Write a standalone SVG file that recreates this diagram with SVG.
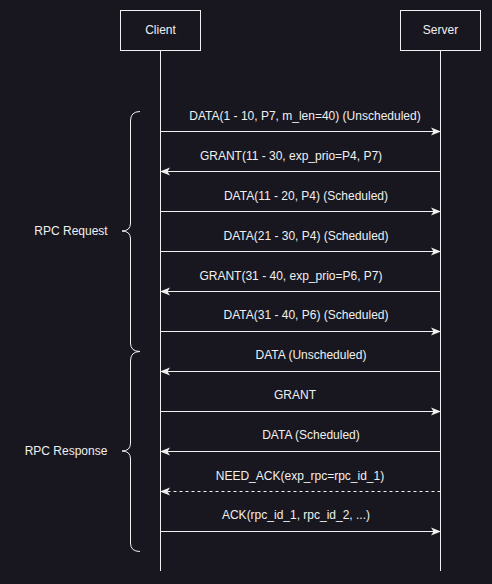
<svg xmlns="http://www.w3.org/2000/svg" width="492" height="584" viewBox="0 0 492 584">
<style>
.box{fill:#18171f;stroke:#f0f0f0;stroke-width:1}
.life{stroke:#f0f0f0;stroke-width:1;fill:none}
.msg{stroke:#f0f0f0;stroke-width:1;fill:none}
.dash{stroke-dasharray:3 3}
.brace{stroke:#f0f0f0;stroke-width:1;fill:none}
text{font-family:"Liberation Sans",Arial,sans-serif;font-size:12px;fill:#f0f0f0;text-anchor:middle}
</style>
<defs>
<marker id="ah" viewBox="0 0 10 10" refX="9" refY="5" markerWidth="10" markerHeight="10" markerUnits="userSpaceOnUse" orient="auto">
<path d="M0,1 L10,5 L0,9 L2.5,5 Z" fill="#f0f0f0"/>
</marker>
</defs>
<rect width="492" height="584" fill="#18171f"/>
<g id="client">
<rect class="box" x="120.5" y="10.5" width="80" height="40"/>
<text x="160.5" y="34">Client</text>
<line class="life" x1="160.5" y1="50.5" x2="160.5" y2="571"/>
</g>
<g id="server">
<rect class="box" x="400.5" y="10.5" width="80" height="40"/>
<text x="440.5" y="34">Server</text>
<line class="life" x1="440.5" y1="50.5" x2="440.5" y2="571"/>
</g>
<g id="rpc-request">
<path class="brace" d="M140,111.5 Q130.5,111.5 130.5,121 L130.5,223 Q130.5,231 122,231 Q130.5,231 130.5,239 L130.5,343 Q130.5,351.5 140,351.5"/>
<text x="71" y="235">RPC Request</text>
</g>
<g id="rpc-response">
<path class="brace" d="M140,351.5 Q130.5,351.5 130.5,361 L130.5,443 Q130.5,451 122,451 Q130.5,451 130.5,459 L130.5,543 Q130.5,551.5 140,551.5"/>
<text x="66" y="455">RPC Response</text>
</g>
<g id="connectors">
<line class="msg" x1="160.5" y1="131.5" x2="440" y2="131.5" marker-end="url(#ah)"/>
<text x="305" y="120">DATA(1 - 10, P7, m_len=40) (Unscheduled)</text>
<line class="msg" x1="440.5" y1="171.5" x2="161" y2="171.5" marker-end="url(#ah)"/>
<text x="291" y="160">GRANT(11 - 30, exp_prio=P4, P7)</text>
<line class="msg" x1="160.5" y1="211.5" x2="440" y2="211.5" marker-end="url(#ah)"/>
<text x="306" y="200">DATA(11 - 20, P4) (Scheduled)</text>
<line class="msg" x1="160.5" y1="251.5" x2="440" y2="251.5" marker-end="url(#ah)"/>
<text x="306" y="240">DATA(21 - 30, P4) (Scheduled)</text>
<line class="msg" x1="440.5" y1="291.5" x2="161" y2="291.5" marker-end="url(#ah)"/>
<text x="291" y="280">GRANT(31 - 40, exp_prio=P6, P7)</text>
<line class="msg" x1="160.5" y1="331.5" x2="440" y2="331.5" marker-end="url(#ah)"/>
<text x="306" y="319">DATA(31 - 40, P6) (Scheduled)</text>
<line class="msg" x1="440.5" y1="371.5" x2="161" y2="371.5" marker-end="url(#ah)"/>
<text x="311" y="359">DATA (Unscheduled)</text>
<line class="msg" x1="160.5" y1="411.5" x2="440" y2="411.5" marker-end="url(#ah)"/>
<text x="295" y="399">GRANT</text>
<line class="msg" x1="440.5" y1="451.5" x2="161" y2="451.5" marker-end="url(#ah)"/>
<text x="311" y="439">DATA (Scheduled)</text>
<line class="msg dash" x1="440.5" y1="491.5" x2="161" y2="491.5" marker-end="url(#ah)"/>
<text x="300" y="480">NEED_ACK(exp_rpc=rpc_id_1)</text>
<line class="msg" x1="160.5" y1="531.5" x2="440" y2="531.5" marker-end="url(#ah)"/>
<text x="296" y="519">ACK(rpc_id_1, rpc_id_2, ...)</text>
</g>
</svg>
